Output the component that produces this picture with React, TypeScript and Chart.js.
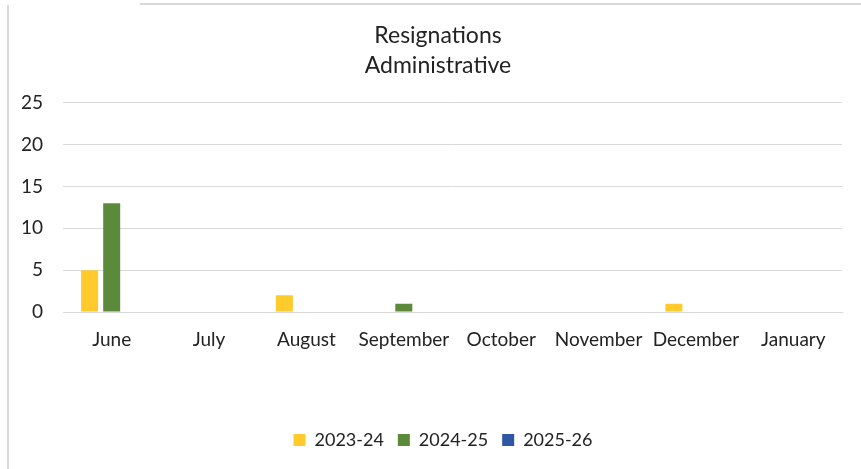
import React, { useEffect, useRef } from "react";
import { Chart, registerables } from "chart.js";

Chart.register(...registerables);

const months = ["June", "July", "August", "September", "October", "November", "December", "January"];
const series2324 = [5, 0, 2, 0, 0, 0, 1, 0];
const series2425 = [13, 0, 0, 1, 0, 0, 0, 0];
const series2526 = [0, 0, 0, 0, 0, 0, 0, 0];
const seriesLabels = ["2023-24", "2024-25", "2025-26"];
const yTicks = [0, 5, 10, 15, 20, 25];
const titleLines = ["Resignations", "Administrative"];

const FONT = "Lato, 'Open Sans', sans-serif";

const shiftBoxes = {
  id: "shiftBoxes",
  afterLayout(chart: any) {
    if (chart.legend) {
      chart.legend.left += 22;
      chart.legend.right += 22;
    }
    if (chart.titleBlock) {
      chart.titleBlock.left += 17;
      chart.titleBlock.right += 17;
    }
  },
};

export default function App() {
  const ref = useRef<HTMLCanvasElement | null>(null);
  useEffect(() => {
    document.body.style.margin = "0";
    const ctx = ref.current!;
    const chart = new Chart(ctx, {
      type: "bar",
      data: {
        labels: months,
        datasets: [
          { label: seriesLabels[0], data: series2324, backgroundColor: "#FFCA2C", borderWidth: 0 },
          { label: seriesLabels[1], data: series2425, backgroundColor: "#5B8A3A", borderWidth: 0 },
          { label: seriesLabels[2], data: series2526, backgroundColor: "#2F56A5", borderWidth: 0 },
        ],
      },
      plugins: [shiftBoxes],
      options: {
        animation: false,
        responsive: false,
        maintainAspectRatio: false,
        datasets: { bar: { categoryPercentage: 0.68, barPercentage: 0.77 } },
        layout: { padding: { left: 0, right: 19, top: 21, bottom: 10 } },
        plugins: {
          title: {
            display: true,
            text: titleLines,
            color: "#222",
            font: { family: FONT, size: 23, weight: "normal", lineHeight: 1.3 },
            padding: { top: 0, bottom: 22 },
          },
          legend: {
            position: "bottom",
            labels: {
              boxWidth: 12,
              boxHeight: 12,
              color: "#222",
              font: { family: FONT, size: 18 },
              padding: 14,
            },
          },
          tooltip: { enabled: false },
        },
        scales: {
          x: {
            grid: { display: false, drawTicks: false },
            border: { display: true, color: "#d9d9d9", width: 1 },
            ticks: { color: "#222", font: { family: FONT, size: 19 }, padding: 16, maxRotation: 0, autoSkip: false },
            afterFit: (s: any) => { s.height = 105; },
          },
          y: {
            min: 0,
            max: 25,
            afterBuildTicks: (s: any) => { s.ticks = yTicks.map((v) => ({ value: v })); },
            grid: { color: "#d9d9d9", drawTicks: false },
            border: { display: false },
            ticks: { color: "#222", font: { family: FONT, size: 19 }, padding: 20 },
            afterFit: (s: any) => { s.width = 63; },
          },
        },
      },
    });
    return () => chart.destroy();
  }, []);
  return (
    <div style={{ position: "relative", width: 861, height: 469, background: "#fff", overflow: "hidden" }}>
      <div style={{ position: "absolute", left: 7, top: 5, width: 2, height: 464, background: "#d9d9d9" }} />
      <div style={{ position: "absolute", left: 140, top: 3, width: 721, height: 2, background: "#d9d9d9" }} />
      <canvas ref={ref} width={861} height={469} style={{ position: "absolute", left: 0, top: 0 }} />
    </div>
  );
}
